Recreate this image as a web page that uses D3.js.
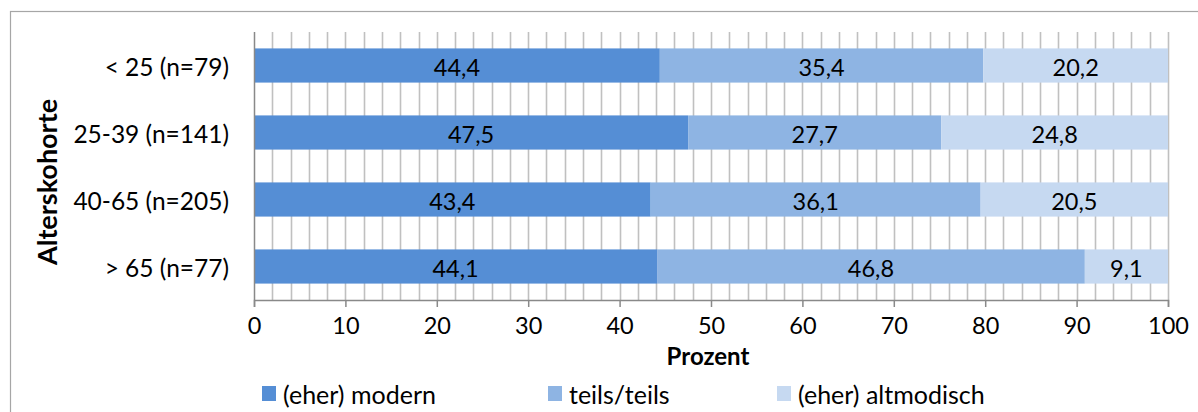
<!DOCTYPE html>
<html><head><meta charset="utf-8">
<script src="https://cdn.jsdelivr.net/npm/d3@7"></script>
<style>body{margin:0;background:#fff}svg{display:block}text{font-family:Lato,"Open Sans",sans-serif}</style>
</head><body><svg id="c" width="1198" height="412"></svg>
<script>
const categories = ["< 25 (n=79)", "25-39 (n=141)", "40-65 (n=205)", "> 65 (n=77)"];
const seriesNames = ["(eher) modern", "teils/teils", "(eher) altmodisch"];
const modern = [44.4, 47.5, 43.4, 44.1];
const teils = [35.4, 27.7, 36.1, 46.8];
const altmodisch = [20.2, 24.8, 20.5, 9.1];
const xTicks = [0, 10, 20, 30, 40, 50, 60, 70, 80, 90, 100];
const colors = ["#558ED5", "#8EB4E3", "#C6D9F1"];

const svg = d3.select("#c");
const m = {l: 254, r: 1168, t: 32, b: 300};
const x = d3.scaleLinear().domain([0, 100]).range([m.l, m.r]);
const y = d3.scaleBand().domain(categories).range([m.t, m.b]).paddingInner(0.49).paddingOuter(0.245);

svg.append("rect").attr("x", 10.5).attr("y", 11.5).attr("width", 1200).attr("height", 420)
  .attr("fill", "none").attr("stroke", "#A6A6A6").attr("stroke-width", 1.2);

// minor gridlines
svg.append("g").selectAll("line").data(d3.range(2, 101, 2)).join("line")
  .attr("x1", d => Math.round(x(d)) + 0.5).attr("x2", d => Math.round(x(d)) + 0.5)
  .attr("y1", m.t).attr("y2", m.b).attr("stroke", "#C0C0C0").attr("stroke-width", 1.6);

const series = [modern, teils, altmodisch];
const stacked = categories.map((c, i) => {
  let acc = 0;
  return series.map((s, k) => { const d = {cat: c, k, v: s[i], x0: acc, x1: acc + s[i]}; acc += s[i]; return d; });
}).flat();

svg.append("g").selectAll("rect").data(stacked).join("rect")
  .attr("x", d => x(d.x0)).attr("width", d => x(d.x1) - x(d.x0))
  .attr("y", d => y(d.cat)).attr("height", y.bandwidth())
  .attr("fill", d => colors[d.k]);

svg.append("g").selectAll("text").data(stacked).join("text")
  .attr("x", d => (x(d.x0) + x(d.x1)) / 2).attr("y", d => y(d.cat) + y.bandwidth() / 2 + 1)
  .attr("text-anchor", "middle").attr("dominant-baseline", "central")
  .attr("font-size", 23.5).attr("fill", "#000")
  .text(d => d.v.toFixed(1).replace(".", ","));

// left axis line
svg.append("line").attr("x1", m.l + 0.5).attr("x2", m.l + 0.5).attr("y1", m.t).attr("y2", m.b)
  .attr("stroke", "#898989").attr("stroke-width", 1.5);

// bottom axis
const xAxis = d3.axisBottom(x).tickValues(xTicks).tickSize(7).tickPadding(10).tickFormat(d3.format("d"));
const gx = svg.append("g").attr("transform", `translate(0,${m.b})`).call(xAxis);
gx.select(".domain").attr("stroke", "#898989").attr("stroke-width", 1.5);
gx.selectAll(".tick line").attr("stroke", "#898989").attr("stroke-width", 1.5);
gx.selectAll(".tick text").attr("font-size", 23.5).attr("font-family", "Lato").attr("fill", "#000");

// y labels
svg.append("g").selectAll("text").data(categories).join("text")
  .attr("x", 229).attr("y", d => y(d) + y.bandwidth() / 2 + 1)
  .attr("text-anchor", "end").attr("dominant-baseline", "central")
  .attr("font-size", 24.5).text(d => d);

svg.append("text").attr("x", 708).attr("y", 365).attr("text-anchor", "middle")
  .attr("font-size", 24).attr("font-weight", "bold").text("Prozent");

svg.append("text").attr("transform", "translate(57,182) rotate(-90)").attr("text-anchor", "middle")
  .attr("font-size", 27).attr("font-weight", "bold").text("Alterskohorte");

const legX = [262, 548, 777];
const lg = svg.append("g").selectAll("g").data(seriesNames).join("g")
  .attr("transform", (d, i) => `translate(${legX[i]},393.5)`);
lg.append("rect").attr("x", 0).attr("y", -7.5).attr("width", 14).attr("height", 15).attr("fill", (d, i) => colors[i]);
lg.append("text").attr("x", 21).attr("y", 0).attr("dominant-baseline", "central").attr("font-size", 25).text(d => d);
</script></body></html>
